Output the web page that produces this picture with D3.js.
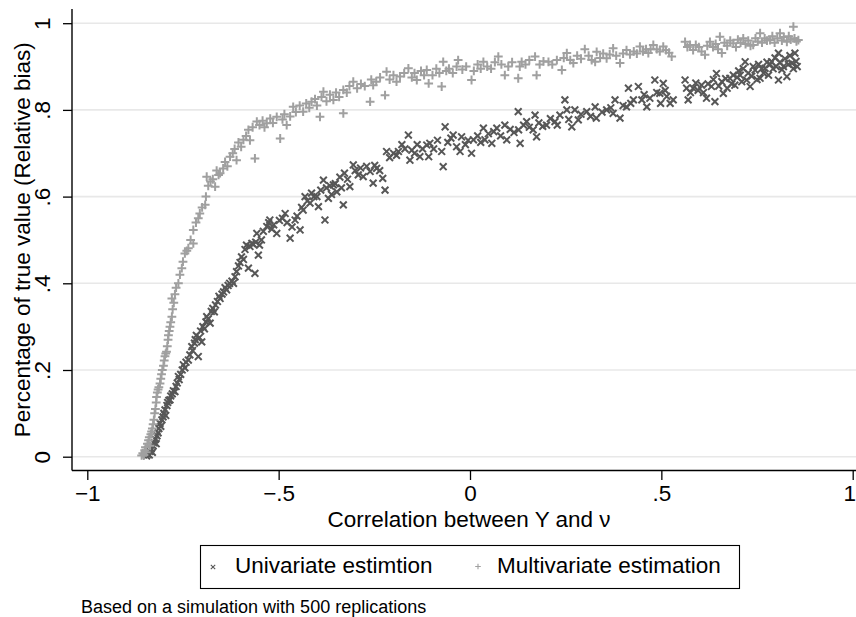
<!DOCTYPE html>
<html>
<head>
<meta charset="utf-8">
<script src="https://d3js.org/d3.v7.min.js"></script>
<style>
  body { margin: 0; background: #fff; }
  text { font-family: "Liberation Sans", Arial, sans-serif; fill: #000; }
</style>
</head>
<body>
<div id="chart"></div>
<script>
// tick values and labels
var xTicks = [-1, -0.5, 0, 0.5, 1];
var xTickLabels = ["\u22121", "\u2212.5", "0", ".5", "1"];
var yTicks = [0, 0.2, 0.4, 0.6, 0.8, 1];
var yTickLabels = ["0", ".2", ".4", ".6", ".8", "1"];

var seriesNames = ["Univariate estimtion", "Multivariate estimation"];

// [correlation, relative bias]
var univariate = [
  [-0.845,0.002],[-0.842,0.006],[-0.838,0.004],[-0.836,0.012],[-0.833,0.018],[-0.83,0.01],[-0.828,0.025],[-0.825,0.032],
  [-0.822,0.04],[-0.82,0.03],[-0.818,0.048],[-0.815,0.055],[-0.813,0.065],[-0.81,0.077],[-0.808,0.07],[-0.805,0.085],
  [-0.802,0.092],[-0.8,0.1],[-0.797,0.108],[-0.795,0.095],[-0.792,0.118],[-0.79,0.125],[-0.787,0.13],[-0.784,0.131],
  [-0.782,0.14],[-0.778,0.145],[-0.775,0.152],[-0.771,0.15],[-0.768,0.162],[-0.765,0.17],[-0.762,0.185],[-0.76,0.178],
  [-0.756,0.19],[-0.752,0.2],[-0.749,0.212],[-0.745,0.205],[-0.742,0.218],[-0.736,0.223],[-0.732,0.235],[-0.727,0.254],
  [-0.725,0.245],[-0.72,0.262],[-0.718,0.27],[-0.715,0.28],[-0.71,0.231],[-0.707,0.275],[-0.704,0.29],[-0.701,0.265],
  [-0.698,0.3],[-0.694,0.295],[-0.69,0.311],[-0.688,0.323],[-0.684,0.318],[-0.679,0.308],[-0.676,0.335],[-0.672,0.342],
  [-0.668,0.334],[-0.665,0.35],[-0.66,0.358],[-0.656,0.37],[-0.653,0.365],[-0.648,0.375],[-0.644,0.38],[-0.64,0.39],
  [-0.636,0.385],[-0.632,0.395],[-0.628,0.4],[-0.622,0.405],[-0.618,0.4],[-0.614,0.415],[-0.61,0.427],[-0.605,0.44],
  [-0.601,0.448],[-0.597,0.461],[-0.592,0.455],[-0.588,0.478],[-0.584,0.488],[-0.579,0.435],[-0.575,0.485],[-0.57,0.492],
  [-0.566,0.49],[-0.562,0.423],[-0.56,0.495],[-0.557,0.515],[-0.553,0.465],[-0.55,0.488],
  [-0.545,0.5],[-0.54,0.52],[-0.531,0.531],[-0.526,0.54],[-0.523,0.546],[-0.518,0.525],[-0.513,0.535],[-0.505,0.515],
  [-0.498,0.545],[-0.49,0.55],[-0.483,0.561],[-0.478,0.54],[-0.47,0.504],[-0.465,0.53],[-0.457,0.546],[-0.452,0.555],
  [-0.444,0.523],[-0.44,0.575],[-0.436,0.569],[-0.431,0.6],[-0.425,0.59],[-0.418,0.585],[-0.414,0.608],[-0.408,0.6],
  [-0.4,0.6],[-0.396,0.577],[-0.39,0.615],[-0.383,0.638],[-0.379,0.546],[-0.375,0.62],[-0.37,0.596],[-0.366,0.625],
  [-0.362,0.605],[-0.357,0.627],[-0.352,0.63],[-0.348,0.611],[-0.34,0.645],[-0.336,0.62],[-0.331,0.581],[-0.328,0.654],
  [-0.32,0.64],[-0.314,0.623],[-0.305,0.673],[-0.3,0.66],[-0.292,0.65],[-0.286,0.666],[-0.279,0.646],[-0.27,0.67],
  [-0.261,0.658],[-0.253,0.631],[-0.249,0.672],[-0.244,0.665],[-0.236,0.66],[-0.228,0.642],[-0.222,0.615],[-0.218,0.704],
  [-0.21,0.69],[-0.2,0.7],[-0.192,0.695],[-0.187,0.704],[-0.178,0.72],[-0.17,0.71],[-0.161,0.742],[-0.157,0.684],
  [-0.152,0.707],[-0.145,0.7],[-0.138,0.72],[-0.131,0.692],[-0.124,0.71],[-0.113,0.719],[-0.108,0.692],[-0.105,0.723],
  [-0.095,0.71],[-0.085,0.73],[-0.074,0.704],[-0.07,0.669],[-0.065,0.761],[-0.058,0.725],[-0.05,0.735],[-0.044,0.742],
  [-0.035,0.715],[-0.026,0.704],[-0.022,0.738],[-0.012,0.72],[-0.005,0.73],[0.004,0.7],[0.009,0.731],[0.02,0.74],
  [0.028,0.725],[0.035,0.758],[0.039,0.731],[0.048,0.745],[0.057,0.723],[0.062,0.75],[0.07,0.758],[0.08,0.74],
  [0.091,0.765],[0.096,0.731],[0.105,0.755],[0.115,0.748],[0.126,0.796],[0.127,0.754],[0.131,0.723],[0.14,0.765],
  [0.148,0.773],[0.155,0.76],[0.165,0.754],[0.17,0.788],[0.174,0.738],[0.18,0.77],[0.19,0.762],[0.2,0.765],
  [0.21,0.78],[0.222,0.773],[0.228,0.765],[0.235,0.788],[0.248,0.823],[0.253,0.8],[0.258,0.778],[0.266,0.761],
  [0.274,0.8],[0.283,0.777],[0.29,0.79],[0.305,0.796],[0.315,0.785],[0.327,0.807],[0.33,0.781],[0.345,0.795],
  [0.357,0.8],[0.368,0.805],[0.374,0.792],[0.379,0.823],[0.392,0.781],[0.4,0.81],[0.409,0.807],[0.414,0.85],
  [0.42,0.815],[0.427,0.823],[0.44,0.854],[0.449,0.823],[0.455,0.835],[0.462,0.807],[0.47,0.827],[0.483,0.869],
  [0.488,0.84],[0.496,0.838],[0.498,0.815],[0.505,0.861],[0.51,0.845],[0.514,0.831],[0.523,0.815],[0.531,0.823],
  [0.562,0.869],[0.566,0.85],[0.57,0.823],[0.576,0.84],[0.583,0.85],[0.59,0.862],[0.596,0.845],[0.605,0.857],
  [0.61,0.84],[0.618,0.827],[0.622,0.86],[0.631,0.854],[0.636,0.87],[0.64,0.819],[0.644,0.884],[0.65,0.855],
  [0.658,0.865],[0.662,0.838],[0.668,0.872],[0.672,0.85],[0.679,0.873],[0.684,0.86],[0.688,0.88],[0.692,0.857],
  [0.698,0.875],[0.702,0.89],[0.706,0.88],[0.71,0.865],[0.714,0.895],[0.719,0.911],[0.723,0.869],[0.727,0.885],
  [0.732,0.854],[0.736,0.878],[0.74,0.9],[0.745,0.892],[0.75,0.87],[0.754,0.905],[0.758,0.873],[0.762,0.895],
  [0.767,0.885],[0.771,0.896],[0.776,0.91],[0.78,0.88],[0.784,0.905],[0.788,0.911],[0.792,0.895],[0.797,0.92],
  [0.8,0.9],[0.806,0.931],[0.806,0.869],[0.81,0.91],[0.815,0.893],[0.819,0.9],[0.823,0.918],[0.828,0.877],
  [0.832,0.905],[0.836,0.925],[0.841,0.908],[0.845,0.895],[0.849,0.931],[0.852,0.912],[0.855,0.9]
];

var multivariate = [
  [-0.858,0.003],[-0.855,0.008],[-0.852,0.004],[-0.85,0.015],[-0.848,0.022],[-0.846,0.01],[-0.843,0.03],[-0.84,0.038],
  [-0.838,0.045],[-0.836,0.025],[-0.834,0.052],[-0.832,0.058],[-0.83,0.065],[-0.828,0.075],[-0.826,0.085],[-0.824,0.1],
  [-0.822,0.11],[-0.82,0.125],[-0.819,0.138],[-0.817,0.148],[-0.815,0.155],[-0.813,0.16],[-0.81,0.169],[-0.808,0.18],
  [-0.806,0.19],[-0.804,0.2],[-0.801,0.21],[-0.799,0.222],[-0.797,0.232],[-0.795,0.238],[-0.793,0.242],[-0.791,0.255],
  [-0.789,0.27],[-0.788,0.28],[-0.786,0.29],[-0.784,0.3],[-0.782,0.31],[-0.779,0.323],[-0.777,0.34],[-0.779,0.365],
  [-0.774,0.355],[-0.771,0.375],[-0.768,0.39],[-0.762,0.4],[-0.758,0.42],[-0.753,0.435],[-0.75,0.45],[-0.745,0.469],
  [-0.74,0.475],[-0.736,0.481],[-0.73,0.5],[-0.723,0.492],[-0.723,0.523],[-0.716,0.54],[-0.71,0.55],[-0.706,0.561],
  [-0.7,0.575],[-0.692,0.581],[-0.69,0.6],[-0.688,0.646],[-0.684,0.625],[-0.678,0.635],[-0.672,0.64],[-0.666,0.623],
  [-0.662,0.66],[-0.657,0.65],[-0.653,0.654],[-0.645,0.665],[-0.64,0.68],[-0.634,0.67],[-0.627,0.692],[-0.62,0.7],
  [-0.615,0.71],[-0.61,0.684],[-0.605,0.725],[-0.598,0.715],[-0.592,0.731],[-0.585,0.74],[-0.579,0.754],[-0.575,0.73],
  [-0.568,0.76],[-0.562,0.688],[-0.557,0.773],[-0.55,0.765],[-0.542,0.775],[-0.537,0.76],[-0.531,0.769],[-0.522,0.78],
  [-0.515,0.77],[-0.505,0.784],[-0.496,0.734],[-0.49,0.778],[-0.485,0.79],[-0.479,0.765],[-0.47,0.785],[-0.462,0.807],
  [-0.455,0.795],[-0.445,0.81],[-0.436,0.796],[-0.428,0.815],[-0.42,0.805],[-0.414,0.819],[-0.405,0.825],[-0.4,0.81],
  [-0.392,0.784],[-0.388,0.83],[-0.383,0.842],[-0.375,0.82],[-0.366,0.835],[-0.357,0.823],[-0.35,0.84],[-0.342,0.83],
  [-0.331,0.792],[-0.331,0.846],[-0.322,0.84],[-0.315,0.855],[-0.305,0.865],[-0.295,0.85],[-0.285,0.86],[-0.275,0.855],
  [-0.261,0.819],[-0.258,0.87],[-0.253,0.857],[-0.245,0.865],[-0.235,0.875],[-0.222,0.834],[-0.218,0.888],[-0.21,0.87],
  [-0.2,0.88],[-0.192,0.865],[-0.183,0.877],[-0.172,0.885],[-0.161,0.896],[-0.152,0.875],[-0.145,0.885],[-0.139,0.869],
  [-0.128,0.89],[-0.12,0.88],[-0.113,0.892],[-0.108,0.861],[-0.098,0.88],[-0.088,0.895],[-0.08,0.885],[-0.074,0.854],
  [-0.07,0.911],[-0.062,0.89],[-0.055,0.895],[-0.045,0.885],[-0.035,0.9],[-0.031,0.915],[-0.02,0.893],[-0.01,0.9],
  [0.004,0.869],[0.01,0.89],[0.02,0.905],[0.028,0.895],[0.035,0.911],[0.045,0.9],[0.055,0.895],[0.065,0.91],
  [0.074,0.923],[0.082,0.905],[0.091,0.88],[0.1,0.9],[0.11,0.91],[0.126,0.873],[0.13,0.9],[0.135,0.911],
  [0.145,0.905],[0.155,0.915],[0.17,0.923],[0.174,0.88],[0.182,0.905],[0.192,0.912],[0.205,0.911],[0.215,0.905],
  [0.227,0.915],[0.24,0.892],[0.245,0.92],[0.253,0.931],[0.262,0.915],[0.27,0.908],[0.28,0.925],[0.29,0.918],
  [0.3,0.94],[0.31,0.925],[0.318,0.915],[0.327,0.911],[0.331,0.934],[0.34,0.92],[0.348,0.93],[0.357,0.919],
  [0.365,0.928],[0.374,0.942],[0.382,0.925],[0.392,0.908],[0.4,0.93],[0.409,0.938],[0.418,0.928],[0.428,0.935],
  [0.436,0.93],[0.444,0.946],[0.452,0.935],[0.46,0.94],[0.466,0.931],[0.472,0.94],[0.479,0.95],[0.488,0.94],
  [0.496,0.935],[0.505,0.946],[0.512,0.938],[0.52,0.932],[0.527,0.923],[0.562,0.957],[0.568,0.945],[0.575,0.95],
  [0.583,0.938],[0.59,0.95],[0.598,0.945],[0.605,0.935],[0.614,0.927],[0.62,0.948],[0.627,0.957],[0.635,0.945],
  [0.642,0.952],[0.648,0.94],[0.653,0.969],[0.658,0.931],[0.665,0.955],[0.672,0.948],[0.68,0.96],[0.688,0.954],
  [0.695,0.945],[0.7,0.962],[0.707,0.955],[0.714,0.965],[0.72,0.952],[0.727,0.96],[0.733,0.948],[0.74,0.95],
  [0.746,0.965],[0.752,0.958],[0.758,0.977],[0.763,0.955],[0.77,0.965],[0.776,0.96],[0.784,0.961],[0.79,0.97],
  [0.796,0.955],[0.803,0.965],[0.81,0.977],[0.815,0.96],[0.82,0.968],[0.828,0.957],[0.833,0.97],[0.838,0.962],
  [0.845,0.992],[0.848,0.965],[0.853,0.958],[0.858,0.961]
];

// plot frame
var W = 856, H = 617;
var frame = { left: 72, right: 856, top: 9, bottom: 470.5 };

var svg = d3.select("#chart")
  .append("svg")
  .attr("width", W)
  .attr("height", H);

var x = d3.scaleLinear().domain([-1, 1]).range([87.3, 852.7]);
var y = d3.scaleLinear().domain([0, 1]).range([456.7, 23.2]);

var uniColor = "#575757";
var multiColor = "#a0a0a0";

// gridlines
svg.append("g")
  .selectAll("line")
  .data(yTicks)
  .enter()
  .append("line")
  .attr("x1", frame.left)
  .attr("x2", frame.right)
  .attr("y1", function (d) { return y(d); })
  .attr("y2", function (d) { return y(d); })
  .attr("stroke", "#e8e8e8")
  .attr("stroke-width", 1.6);

function crossPath(s) {
  return "M" + (-s) + "," + (-s) + "L" + s + "," + s + "M" + (-s) + "," + s + "L" + s + "," + (-s);
}
function plusPath(s) {
  return "M" + (-s) + ",0L" + s + ",0M0," + (-s) + "L0," + s;
}

// univariate markers (x)
svg.append("g")
  .selectAll("path")
  .data(univariate)
  .enter()
  .append("path")
  .attr("transform", function (d) { return "translate(" + x(d[0]) + "," + y(d[1]) + ")"; })
  .attr("d", crossPath(3.4))
  .attr("stroke", uniColor)
  .attr("stroke-width", 2)
  .attr("fill", "none");

// multivariate markers (+)
svg.append("g")
  .selectAll("path")
  .data(multivariate)
  .enter()
  .append("path")
  .attr("transform", function (d) { return "translate(" + x(d[0]) + "," + y(d[1]) + ")"; })
  .attr("d", plusPath(4.4))
  .attr("stroke", multiColor)
  .attr("stroke-width", 2)
  .attr("fill", "none");

// x axis
var xAxis = svg.append("g")
  .attr("transform", "translate(0," + frame.bottom + ")")
  .call(d3.axisBottom(x)
    .tickValues(xTicks)
    .tickSize(9.5)
    .tickSizeOuter(0)
    .tickFormat(function (d, i) { return xTickLabels[i]; }));
xAxis.select(".domain").remove();
xAxis.selectAll(".tick line").attr("stroke", "#000").attr("stroke-width", 1.3);
xAxis.selectAll(".tick text")
  .attr("y", 30.5)
  .attr("dy", 0)
  .style("font-size", "22.5px")
  .style("font-family", "'Liberation Sans', Arial, sans-serif")
  .attr("fill", "#000");
// last label sits on the right edge: keep it inside the picture
xAxis.selectAll(".tick text")
  .filter(function (d) { return d === 1; })
  .attr("text-anchor", "end")
  .attr("x", W - x(1) - 0.5);

// y axis
var yAxis = svg.append("g")
  .attr("transform", "translate(" + frame.left + ",0)")
  .call(d3.axisLeft(y)
    .tickValues(yTicks)
    .tickSize(9)
    .tickSizeOuter(0)
    .tickFormat(function (d, i) { return yTickLabels[i]; }));
yAxis.select(".domain").remove();
yAxis.selectAll(".tick line").attr("stroke", "#000").attr("stroke-width", 1.3);
yAxis.selectAll(".tick text")
  .attr("x", 0)
  .attr("dy", 0)
  .attr("transform", "translate(-22,0) rotate(-90)")
  .attr("text-anchor", "middle")
  .style("font-size", "22.5px")
  .style("font-family", "'Liberation Sans', Arial, sans-serif")
  .attr("fill", "#000");

// axis lines
svg.append("line")
  .attr("x1", frame.left).attr("x2", frame.right)
  .attr("y1", frame.bottom).attr("y2", frame.bottom)
  .attr("stroke", "#000").attr("stroke-width", 1.4);
svg.append("line")
  .attr("x1", frame.left).attr("x2", frame.left)
  .attr("y1", frame.top).attr("y2", frame.bottom)
  .attr("stroke", "#000").attr("stroke-width", 1.4);

// axis titles
svg.append("text")
  .attr("x", 469)
  .attr("y", 527.3)
  .attr("text-anchor", "middle")
  .style("font-size", "22.5px")
  .text("Correlation between Y and \u03bd");

svg.append("text")
  .attr("transform", "translate(29.5," + ((frame.top + frame.bottom) / 2) + ") rotate(-90)")
  .attr("text-anchor", "middle")
  .style("font-size", "22.5px")
  .text("Percentage of true value (Relative bias)");

// legend
var legend = svg.append("g");
legend.append("rect")
  .attr("x", 200.5).attr("y", 545.5)
  .attr("width", 539).attr("height", 43)
  .attr("fill", "#fff")
  .attr("stroke", "#000")
  .attr("stroke-width", 1.1);

legend.append("path")
  .attr("transform", "translate(213,567)")
  .attr("d", crossPath(2.2))
  .attr("stroke", uniColor).attr("stroke-width", 1.1).attr("fill", "none");
legend.append("text")
  .attr("x", 235).attr("y", 573.3)
  .style("font-size", "22.5px")
  .text(seriesNames[0]);

legend.append("path")
  .attr("transform", "translate(478,566.5)")
  .attr("d", plusPath(2.8))
  .attr("stroke", multiColor).attr("stroke-width", 1.1).attr("fill", "none");
legend.append("text")
  .attr("x", 497).attr("y", 573.3)
  .style("font-size", "22.5px")
  .text(seriesNames[1]);

// note
svg.append("text")
  .attr("x", 81)
  .attr("y", 612.5)
  .style("font-size", "18px")
  .text("Based on a simulation with 500 replications");
</script>
</body>
</html>
